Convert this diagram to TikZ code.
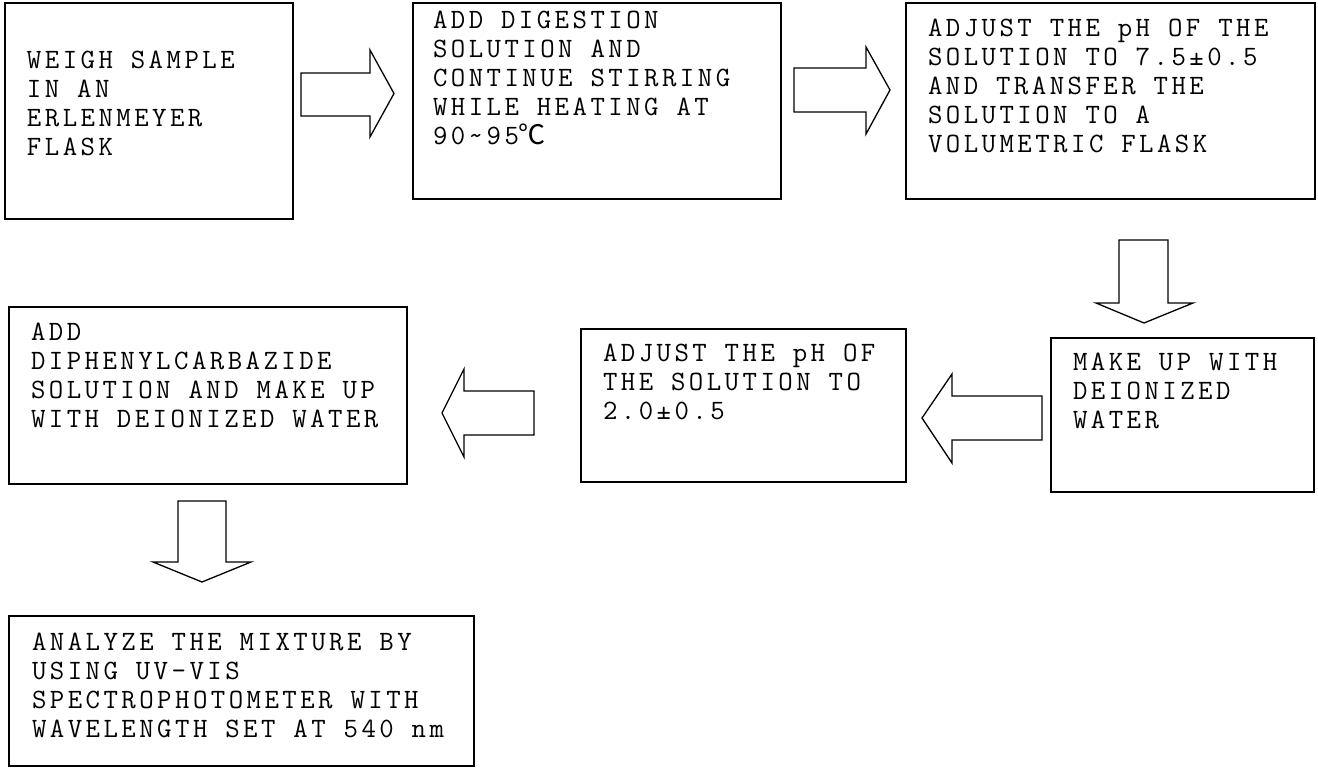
\documentclass[tikz,border=0pt]{standalone}
\usepackage{fontspec}
\setmonofont[LetterSpace=12.4]{Latin Modern Mono}
\newfontfamily\cjk{Noto Sans CJK SC}
\newcommand\fstrut{\rule{0pt}{24pt}}
\tikzset{
  stepbox/.style={draw=black, line width=1.6pt, fill=white, inner sep=0pt, outer sep=0pt},
  txt/.style={font=\ttfamily\fontsize{28}{29}\selectfont, align=left, inner sep=0pt, outer sep=0pt, anchor=north west},
  blockarrow/.style={draw=black, line width=1.3pt, fill=white, line join=miter}
}
\begin{document}
\begin{tikzpicture}[x=1pt, y=-1pt]
\useasboundingbox (0,0) rectangle (1318,769);
% boxes
\node[stepbox, minimum width=288pt, minimum height=216pt] (b1) at (149,111) {};
\node[stepbox, minimum width=368pt, minimum height=196pt] (b2) at (597,101) {};
\node[stepbox, minimum width=409pt, minimum height=196pt] (b3) at (1110.5,101) {};
\node[stepbox, minimum width=263pt, minimum height=154pt] (b6) at (1182.5,415) {};
\node[stepbox, minimum width=325pt, minimum height=153pt] (b5) at (743.5,405.5) {};
\node[stepbox, minimum width=398pt, minimum height=177pt] (b4) at (208,395.5) {};
\node[stepbox, minimum width=465pt, minimum height=150pt] (b7) at (241.5,691) {};
% texts (first baseline = y + 24)
\node[txt] (t1) at (27,44.5) {\fstrut WEIGH SAMPLE\\IN AN\\ERLENMEYER\\FLASK};
\node[txt] (t2) at (433,4.5) {\fstrut ADD DIGESTION\\SOLUTION AND\\CONTINUE STIRRING\\WHILE HEATING AT\\90\textasciitilde 95{\cjk\fontsize{27}{29}\selectfont ℃}};
\node[txt] (t3) at (928,12) {\fstrut ADJUST THE pH OF THE\\SOLUTION TO 7.5±0.5\\AND TRANSFER THE\\SOLUTION TO A\\VOLUMETRIC FLASK};
\node[txt] (t6) at (1073,346) {\fstrut MAKE UP WITH\\DEIONIZED\\WATER};
\node[txt] (t5) at (603,337.5) {\fstrut ADJUST THE pH OF\\THE SOLUTION TO\\2.0±0.5};
\node[txt] (t4) at (31,316.5) {\fstrut ADD\\DIPHENYLCARBAZIDE\\SOLUTION AND MAKE UP\\WITH DEIONIZED WATER};
\node[txt] (t7) at (32,626) {\fstrut ANALYZE THE MIXTURE BY\\USING UV-VIS\\SPECTROPHOTOMETER WITH\\WAVELENGTH SET AT 540 nm};
% block arrows
\draw[blockarrow] (301,73) -- (370,73) -- (370,50) -- (394,93.5) -- (370,137) -- (370,116) -- (301,116) -- cycle;
\draw[blockarrow] (794,68) -- (866,68) -- (866,47) -- (890,90) -- (866,134) -- (866,112) -- (794,112) -- cycle;
\draw[blockarrow] (1119,240) -- (1168,240) -- (1168,303) -- (1193,303) -- (1144,323) -- (1096,303) -- (1119,303) -- cycle;
\draw[blockarrow] (1042,396) -- (952,396) -- (952,374) -- (922,418) -- (952,463) -- (952,440) -- (1042,440) -- cycle;
\draw[blockarrow] (534,391) -- (464,391) -- (464,369) -- (442,413) -- (464,457) -- (464,435) -- (534,435) -- cycle;
\draw[blockarrow] (178,501) -- (226,501) -- (226,562) -- (251,562) -- (202,582) -- (153,562) -- (178,562) -- cycle;
\end{tikzpicture}
\end{document}
